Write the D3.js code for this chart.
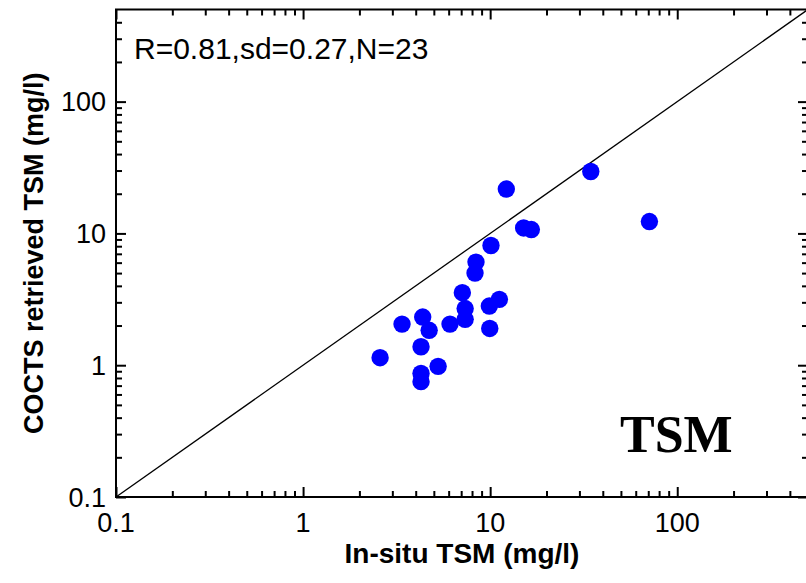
<!DOCTYPE html>
<html>
<head>
<meta charset="utf-8">
<script src="https://cdn.jsdelivr.net/npm/d3@7/dist/d3.min.js"></script>
<style>
  html, body { margin: 0; padding: 0; background: #fff; }
  svg { display: block; }
  text { font-family: "Liberation Sans", Arial, sans-serif; }
</style>
</head>
<body>
<svg id="chart" width="806" height="583"></svg>
<script>
// ---- data ----
const insituTSM = [34.5, 12.2, 71, 15.1, 16.6, 10.1, 8.4, 8.3, 7.1, 7.35, 7.35, 11.2, 9.9, 9.95, 6.1, 4.36, 4.72, 3.38, 4.27, 2.58, 5.27, 4.27, 4.27];
const coctsTSM  = [29.5, 21.7, 12.3, 11.0, 10.7, 8.1, 6.06, 5.0, 3.55, 2.69, 2.23, 3.16, 2.81, 1.90, 2.05, 2.32, 1.84, 2.05, 1.38, 1.14, 0.98, 0.865, 0.75];
const majorTicks = [0.1, 1, 10, 100];
const tickLabels = ["0.1", "1", "10", "100"];
const axisDomain = [0.1, 500];
const statsText = "R=0.81,sd=0.27,N=23";
const panelLabel = "TSM";
const xTitle = "In-situ TSM (mg/l)";
const yTitle = "COCTS retrieved TSM (mg/l)";

// ---- layout ----
const L = 116, R = 808, T = 9.5, B = 497;
const svg = d3.select("#chart");
const x = d3.scaleLog().domain(axisDomain).range([L, R]);
const y = d3.scaleLog().domain(axisDomain).range([B, T]);

// minor ticks: 2..9 of each decade within domain
const minorTicks = [];
for (let d = 0.1; d < 500; d *= 10) {
  for (let k = 2; k <= 9; k++) {
    const v = +(d * k).toPrecision(3);
    if (v < 500) minorTicks.push(v);
  }
}

svg.append("defs").append("clipPath").attr("id", "clip")
  .append("rect").attr("x", L).attr("y", T).attr("width", R - L).attr("height", B - T);

// 1:1 line
svg.append("line")
  .attr("clip-path", "url(#clip)")
  .attr("x1", x(axisDomain[0])).attr("y1", y(axisDomain[0]))
  .attr("x2", x(axisDomain[1])).attr("y2", y(axisDomain[1]))
  .attr("stroke", "#000").attr("stroke-width", 1.3);

// points
svg.append("g").selectAll("circle")
  .data(insituTSM.map((v, i) => [v, coctsTSM[i]]))
  .join("circle")
  .attr("cx", d => x(d[0])).attr("cy", d => y(d[1]))
  .attr("r", 8.7).attr("fill", "#0000ff");

// axes (ticks inward)
function axis(gen, scale, ticks, len, transform) {
  const g = svg.append("g").attr("transform", transform)
    .call(gen(scale).tickValues(ticks).tickSize(len).tickFormat(""));
  g.select(".domain").remove();
  g.selectAll(".tick line").attr("stroke", "#000").attr("stroke-width", 2);
  return g;
}
// bottom (ticks up)
axis(d3.axisTop, x, majorTicks, 10, `translate(0,${B})`);
axis(d3.axisTop, x, minorTicks, 6, `translate(0,${B})`);
// top (ticks down)
axis(d3.axisBottom, x, majorTicks, 10, `translate(0,${T})`);
axis(d3.axisBottom, x, minorTicks, 6, `translate(0,${T})`);
// left (ticks right)
axis(d3.axisRight, y, majorTicks, 10, `translate(${L},0)`);
axis(d3.axisRight, y, minorTicks, 6, `translate(${L},0)`);
// right (ticks left)
axis(d3.axisLeft, y, majorTicks, 10, `translate(${R},0)`);
axis(d3.axisLeft, y, minorTicks, 6, `translate(${R},0)`);

// frame
svg.append("rect").attr("x", L).attr("y", T).attr("width", R - L).attr("height", B - T)
  .attr("fill", "none").attr("stroke", "#000").attr("stroke-width", 2);

// tick labels
svg.append("g").selectAll("text").data(majorTicks).join("text")
  .attr("x", d => x(d)).attr("y", B + 35)
  .attr("text-anchor", "middle").attr("font-size", 27)
  .text((d, i) => tickLabels[i]);
svg.append("g").selectAll("text").data(majorTicks).join("text")
  .attr("x", L - 10).attr("y", d => y(d)).attr("dy", "0.36em")
  .attr("text-anchor", "end").attr("font-size", 27)
  .text((d, i) => tickLabels[i]);

// titles
svg.append("text").attr("x", (L + R) / 2).attr("y", 563)
  .attr("text-anchor", "middle").attr("font-size", 28).attr("font-weight", "bold")
  .text(xTitle);
svg.append("text")
  .attr("transform", `translate(43,${(T + B) / 2}) rotate(-90)`)
  .attr("text-anchor", "middle").attr("font-size", 27).attr("font-weight", "bold")
  .text(yTitle);

// annotations
svg.append("text").attr("x", 134).attr("y", 59).attr("font-size", 30).text(statsText);
svg.append("text").attr("x", 620).attr("y", 452)
  .attr("font-family", "'Liberation Serif', 'Times New Roman', serif")
  .style("font-family", "'Liberation Serif', 'Times New Roman', serif")
  .attr("font-size", 52).attr("font-weight", "bold").text(panelLabel);
</script>
</body>
</html>
